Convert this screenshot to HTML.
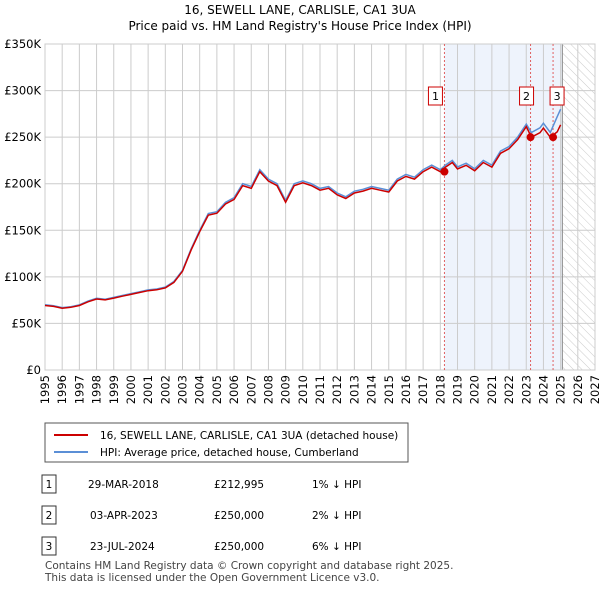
<!DOCTYPE html>
<html><head><meta charset="utf-8"><style>
body{margin:0;background:#fff;font-family:"Liberation Sans",sans-serif;}
svg text{font-family:"DejaVu Sans","Liberation Sans",sans-serif;}
</style></head><body>
<svg id="c" width="600" height="590" xmlns="http://www.w3.org/2000/svg">
<defs><pattern id="hatch" width="6" height="6" patternUnits="userSpaceOnUse" patternTransform="rotate(-45)"><line x1="0" y1="0" x2="0" y2="6" stroke="#ccc" stroke-width="1"/></pattern></defs>
<text x="300" y="14" font-size="12" text-anchor="middle">16, SEWELL LANE, CARLISLE, CA1 3UA</text>
<text x="300" y="30" font-size="12" text-anchor="middle">Price paid vs. HM Land Registry's House Price Index (HPI)</text>
<g id="plot"></g>
<rect x="45" y="423" width="363" height="39" fill="#fff" stroke="#555"/>
<line x1="54" y1="435" x2="88" y2="435" stroke="#cc0000" stroke-width="2"/>
<text x="100" y="439" font-size="10.5">16, SEWELL LANE, CARLISLE, CA1 3UA (detached house)</text>
<line x1="54" y1="452" x2="88" y2="452" stroke="#5b8fd6" stroke-width="2"/>
<text x="100" y="456" font-size="10.5">HPI: Average price, detached house, Cumberland</text>
<g id="table" font-size="10.5"></g>
<text x="45" y="569" font-size="10.5" fill="#444">Contains HM Land Registry data © Crown copyright and database right 2025.</text>
<text x="45" y="581" font-size="10.5" fill="#444">This data is licensed under the Open Government Licence v3.0.</text>
</svg>
<script>
const hpiYears=[1995,1995.5,1996,1996.5,1997,1997.5,1998,1998.5,1999,1999.5,2000,2000.5,2001,2001.5,2002,2002.5,2003,2003.5,2004,2004.5,2005,2005.5,2006,2006.5,2007,2007.5,2008,2008.5,2009,2009.5,2010,2010.5,2011,2011.5,2012,2012.5,2013,2013.5,2014,2014.5,2015,2015.5,2016,2016.5,2017,2017.5,2018,2018.3,2018.7,2019,2019.5,2020,2020.5,2021,2021.5,2022,2022.5,2023,2023.3,2023.8,2024,2024.4,2024.8,2025];
const hpiValues=[70000,69000,67000,68000,70000,74000,77000,76000,78000,80000,82000,84000,86000,87000,89000,95000,107000,130000,150000,168000,170000,180000,185000,200000,197000,215000,205000,200000,182000,200000,203000,200000,195000,197000,190000,186000,192000,194000,197000,195000,193000,205000,210000,207000,215000,220000,215000,220000,225000,218000,222000,216000,225000,220000,235000,240000,250000,264000,255000,260000,265000,255000,272000,280000];
const priceFactor=[0.99,0.98,0.94];
const saleLabels=["1","2","3"];
const saleYears=[2018.24,2023.25,2024.56];
const salePrices=[212995,250000,250000];
const saleDates=["29-MAR-2018","03-APR-2023","23-JUL-2024"];
const salePriceText=["£212,995","£250,000","£250,000"];
const saleHpiText=["1% ↓ HPI","2% ↓ HPI","6% ↓ HPI"];
const yTicks=[0,50000,100000,150000,200000,250000,300000,350000];
const yTickLabels=["£0","£50K","£100K","£150K","£200K","£250K","£300K","£350K"];
const xTicks=[1995,1996,1997,1998,1999,2000,2001,2002,2003,2004,2005,2006,2007,2008,2009,2010,2011,2012,2013,2014,2015,2016,2017,2018,2019,2020,2021,2022,2023,2024,2025,2026,2027];
const X0=45,X1=595,Y0=370,Y1=44,xmin=1995,xmax=2027,ymax=350000,dataEnd=2025.1;
const xs=v=>X0+(v-xmin)/(xmax-xmin)*(X1-X0);
const ys=v=>Y0-v/ymax*(Y0-Y1);
const NS="http://www.w3.org/2000/svg";
const g=document.getElementById('plot');
function mk(t,a,p){const e=document.createElementNS(NS,t);for(const k in a)e.setAttribute(k,a[k]);(p||g).appendChild(e);return e;}
let e;
e=mk('rect',{x:xs(saleYears[0]),y:Y1,width:xs(dataEnd)-xs(saleYears[0]),height:Y0-Y1,fill:'#eef3fc'});


e=mk('rect',{x:xs(dataEnd),y:Y1,width:X1-xs(dataEnd),height:Y0-Y1,fill:'url(#hatch)'});


xTicks.forEach(t=>{e=mk('line',{x1:xs(t),x2:xs(t),y1:Y1,y2:Y0,stroke:'#ccc'});


const tx=xs(t)+4,ty=Y0+5;
e=mk('text',{x:tx,y:ty,'font-size':11.5,'text-anchor':'end',transform:'rotate(-90 '+tx+' '+ty+')'});e.textContent=t;

});
yTicks.forEach((t,i)=>{e=mk('line',{x1:X0,x2:X1,y1:ys(t),y2:ys(t),stroke:'#ccc'});


e=mk('text',{x:X0-4,y:ys(t)+4,'font-size':11.5,'text-anchor':'end'});e.textContent=yTickLabels[i];

});
e=mk('line',{x1:xs(dataEnd),x2:xs(dataEnd),y1:Y1,y2:Y0,stroke:'#888'});


e=mk('rect',{x:X0,y:Y1,width:X1-X0,height:Y0-Y1,fill:'none',stroke:'#ccc'});


saleYears.forEach((s,i)=>{e=mk('line',{x1:xs(s),x2:xs(s),y1:Y1,y2:Y0,stroke:'#e06060','stroke-dasharray':'2,2'});

});
const hp=hpiYears.map((y,i)=>xs(y).toFixed(1)+','+ys(hpiValues[i]).toFixed(1)).join(' ');
e=mk('polyline',{points:hp,fill:'none',stroke:'#5b8fd6','stroke-width':1.5});


function factor(y){return y<saleYears[1]?priceFactor[0]:y<saleYears[2]?priceFactor[1]:priceFactor[2];}
const pp=hpiYears.map((y,i)=>xs(y).toFixed(1)+','+ys(hpiValues[i]*factor(y)).toFixed(1)).join(' ');
e=mk('polyline',{points:pp,fill:'none',stroke:'#cc0000','stroke-width':1.5});


saleYears.forEach((s,i)=>{e=mk('circle',{cx:xs(s),cy:ys(salePrices[i]),r:4,fill:'#cc0000'});


const bx=xs(s)-[9,4,-4][i];
e=mk('rect',{x:bx-7,y:87,width:14,height:18,fill:'#fff',stroke:'#cc0000'});


e=mk('text',{x:bx,y:100,'font-size':11,'text-anchor':'middle'});e.textContent=saleLabels[i];

});
const tb=document.getElementById('table');
saleLabels.forEach((l,i)=>{const y=484+i*31;
e=mk('rect',{x:42,y:y-9,width:14,height:18,fill:'#fff',stroke:'#333'},tb);


e=mk('text',{x:49,y:y+4,'text-anchor':'middle'},tb);e.textContent=l;


e=mk('text',{x:88+(i==0?0:2),y:y+4},tb);e.textContent=saleDates[i];


e=mk('text',{x:214,y:y+4},tb);e.textContent=salePriceText[i];


e=mk('text',{x:312,y:y+4},tb);e.textContent=saleHpiText[i];

});
</script>
</body></html>
